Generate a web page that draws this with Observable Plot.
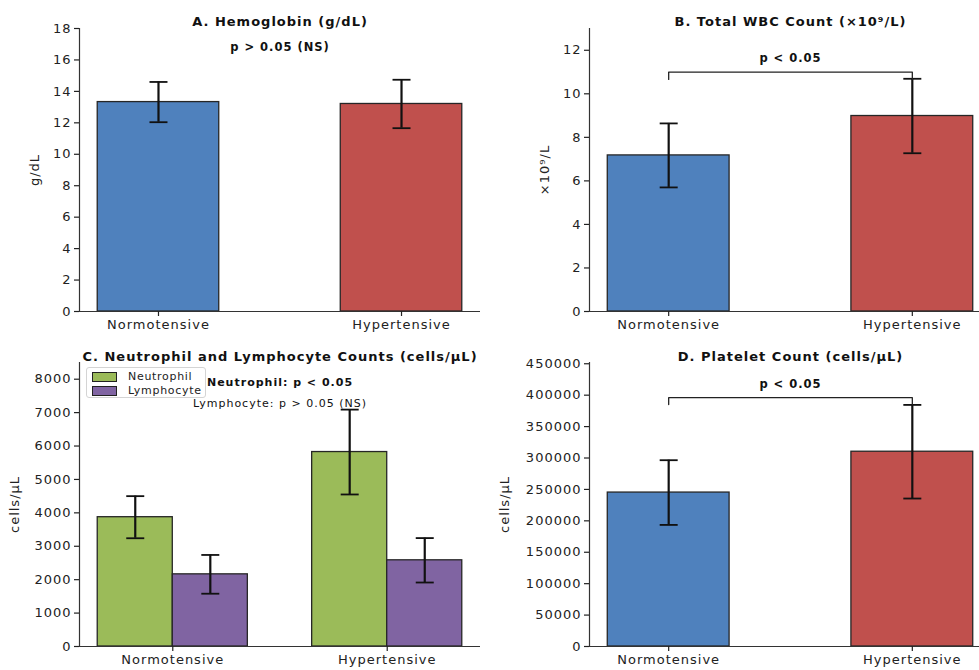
<!DOCTYPE html>
<html><head><meta charset="utf-8">
<script src="https://cdn.jsdelivr.net/npm/d3@7"></script>
<script src="https://cdn.jsdelivr.net/npm/@observablehq/plot@0.6"></script>
<style>
html,body{margin:0;padding:0;background:#fff;}
#root{position:relative;width:979px;height:670px;overflow:hidden;font-family:"DejaVu Sans",sans-serif;}
.panel{position:absolute;}
.panel svg{max-width:none !important;}
.legend{position:absolute;left:86px;top:367px;width:120px;height:31px;border:1px solid #d4d4d4;border-radius:3px;background:rgba(255,255,255,0.85);font-size:11px;letter-spacing:0.7px;color:#222;box-sizing:border-box;}
.legend .row{position:absolute;left:5px;display:flex;align-items:center;}
.legend .sw{width:23px;height:8px;border:1px solid #222;margin-right:11px;}
</style></head><body><div id="root"></div>
<script>
// ---- data ----
const groups = ["Normotensive", "Hypertensive"];
const barColors = ["#4F81BD", "#C0504D"];

const hbMean = [13.32, 13.2];
const hbSd = [1.28, 1.54];
const hbNote = [{label: "p > 0.05 (NS)", x: 0.5, y: 16.8}];

const wbcMean = [7.17, 8.98];
const wbcSd = [1.47, 1.71];
const wbcBracketX = [0, 0, 1, 1];
const wbcBracketY = [10.66, 11.0, 11.0, 10.66];
const wbcNote = [{label: "p < 0.05", x: 0.5, y: 11.65}];

const cellSeries = ["Neutrophil", "Lymphocyte"];
const cellColors = ["#9BBB59", "#8064A2"];
const neutMean = [3870, 5820];
const neutSd = [630, 1270];
const lymphMean = [2160, 2580];
const lymphSd = [580, 665];
const neutNote = [{label: "Neutrophil: p < 0.05", x: 0.5, y: 7900}];
const lymphNote = [{label: "Lymphocyte: p > 0.05 (NS)", x: 0.5, y: 7280}];

const pltMean = [245000, 310000];
const pltSd = [51500, 74500];
const pltBracketX = [0, 0, 1, 1];
const pltBracketY = [385000, 396000, 396000, 385000];
const pltNote = [{label: "p < 0.05", x: 0.5, y: 417000}];

// ---- helpers ----
const capSymbol = {draw(ctx, size) { const r = Math.sqrt(size / Math.PI); ctx.moveTo(-r, 0); ctx.lineTo(r, 0); }};
const baseStyle = {fontFamily: "DejaVu Sans", fontSize: "13px", letterSpacing: "1px", color: "#222", background: "transparent", overflow: "visible", maxWidth: "none"};

function errorMarks(data) {
  return [
    Plot.ruleX(data, {x: "x", y1: d => d.v - d.sd, y2: d => d.v + d.sd, stroke: "#111", strokeWidth: 2.2}),
    Plot.dot(data, {x: "x", y: d => d.v - d.sd, symbol: capSymbol, r: 9, stroke: "#111", strokeWidth: 1.8, fill: "none"}),
    Plot.dot(data, {x: "x", y: d => d.v + d.sd, symbol: capSymbol, r: 9, stroke: "#111", strokeWidth: 1.8, fill: "none"})
  ];
}

function frameMarks(o, xmin) {
  return [
    Plot.ruleX([xmin], {stroke: "#333", strokeWidth: 1.2}),
    Plot.ruleY([0], {stroke: "#333", strokeWidth: 1.2}),
    Plot.axisY({ticks: o.yTicks, tickSize: 5, tickPadding: 3, tickFormat: d => String(d), label: o.yLabel, labelAnchor: "center", labelArrow: "none", labelOffset: o.labelOffset, strokeWidth: 1.2}),
    Plot.axisX({ticks: [0, 1], tickFormat: i => groups[i], tickSize: 5, tickPadding: 3, label: null, strokeWidth: 1.2}),
    Plot.text([o.title], {frameAnchor: "top", dy: o.titleDy, fontWeight: "bold", fontSize: 13, letterSpacing: "1.3px", fill: "#111"})
  ];
}

function simplePanel(o) {
  const data = groups.map((g, i) => ({x: i, g, v: o.means[i], sd: o.sds[i], c: barColors[i]}));
  const xmin = -0.325;
  return Plot.plot({
    width: o.width, height: 335,
    marginLeft: o.marginLeft, marginRight: o.marginRight, marginTop: o.marginTop, marginBottom: 24,
    style: baseStyle,
    x: {domain: [xmin, 1.325], axis: null},
    y: {domain: [0, o.yMax], axis: null},
    marks: [
      Plot.rectY(data, {x1: d => d.x - 0.25, x2: d => d.x + 0.25, y: "v", fill: "c", stroke: "#262626", strokeWidth: 1.3}),
      ...errorMarks(data),
      ...frameMarks(o, xmin),
      ...(o.bracketX ? [Plot.line(o.bracketX.map((x, k) => ({x, y: o.bracketY[k]})), {x: "x", y: "y", stroke: "#222", strokeWidth: 1.3})] : []),
      Plot.text(o.notes, {x: "x", y: "y", text: "label", fontWeight: "bold", fontSize: 11.5, fill: "#111"})
    ]
  });
}

const root = document.getElementById("root");
function place(node, left, top, width) {
  const d = document.createElement("div");
  d.className = "panel";
  d.style.left = left + "px"; d.style.top = top + "px";
  d.style.width = width + "px"; d.style.height = "335px";
  d.appendChild(node);
  root.appendChild(d);
}

// A
place(simplePanel({
  means: hbMean, sds: hbSd, yMax: 18, yTicks: d3.range(0, 19, 2),
  yLabel: "g/dL", labelOffset: 50, title: "A. Hemoglobin (g/dL)", titleDy: -12,
  width: 490, marginLeft: 79, marginRight: 10, marginTop: 28, notes: hbNote
}), 0, 0, 490);

// B
place(simplePanel({
  means: wbcMean, sds: wbcSd, yMax: 13, yTicks: d3.range(0, 13, 2),
  yLabel: "×10⁹/L", labelOffset: 50, title: "B. Total WBC Count (×10⁹/L)", titleDy: -12,
  width: 502, marginLeft: 99, marginRight: 1, marginTop: 28, notes: wbcNote,
  bracketX: wbcBracketX, bracketY: wbcBracketY
}), 490, 0, 502);

// C
(function () {
  const data = [];
  groups.forEach((g, i) => {
    data.push({x: i - 0.175, x1: i - 0.35, x2: i, v: neutMean[i], sd: neutSd[i], c: cellColors[0]});
    data.push({x: i + 0.175, x1: i, x2: i + 0.35, v: lymphMean[i], sd: lymphSd[i], c: cellColors[1]});
  });
  const xmin = -0.435;
  const o = {yTicks: d3.range(0, 8001, 1000), yLabel: "cells/μL", labelOffset: 70,
    title: "C. Neutrophil and Lymphocyte Counts (cells/μL)", titleDy: -11};
  const chart = Plot.plot({
    width: 490, height: 335, marginLeft: 79, marginRight: 10, marginTop: 27, marginBottom: 24,
    style: baseStyle,
    x: {domain: [xmin, 1.435], axis: null},
    y: {domain: [0, 8500], axis: null},
    marks: [
      Plot.rectY(data, {x1: "x1", x2: "x2", y: "v", fill: "c", stroke: "#262626", strokeWidth: 1.3}),
      ...errorMarks(data),
      ...frameMarks(o, xmin),
      Plot.text(neutNote, {x: "x", y: "y", text: "label", fontWeight: "bold", fontSize: 11, fill: "#111"}),
      Plot.text(lymphNote, {x: "x", y: "y", text: "label", fontSize: 11, fill: "#111"})
    ]
  });
  place(chart, 0, 335, 490);
  const lg = document.createElement("div");
  lg.className = "legend";
  cellSeries.forEach((s, k) => {
    const row = document.createElement("div");
    row.className = "row";
    row.style.top = (2 + k * 14) + "px";
    row.innerHTML = `<span class="sw" style="background:${cellColors[k]}"></span><span>${s}</span>`;
    lg.appendChild(row);
  });
  root.appendChild(lg);
})();

// D
place(simplePanel({
  means: pltMean, sds: pltSd, yMax: 452000, yTicks: d3.range(0, 450001, 50000),
  yLabel: "cells/μL", labelOffset: 90, title: "D. Platelet Count (cells/μL)", titleDy: -11,
  width: 502, marginLeft: 99, marginRight: 1, marginTop: 27, notes: pltNote,
  bracketX: pltBracketX, bracketY: pltBracketY
}), 490, 335, 502);
</script>
</body></html>
